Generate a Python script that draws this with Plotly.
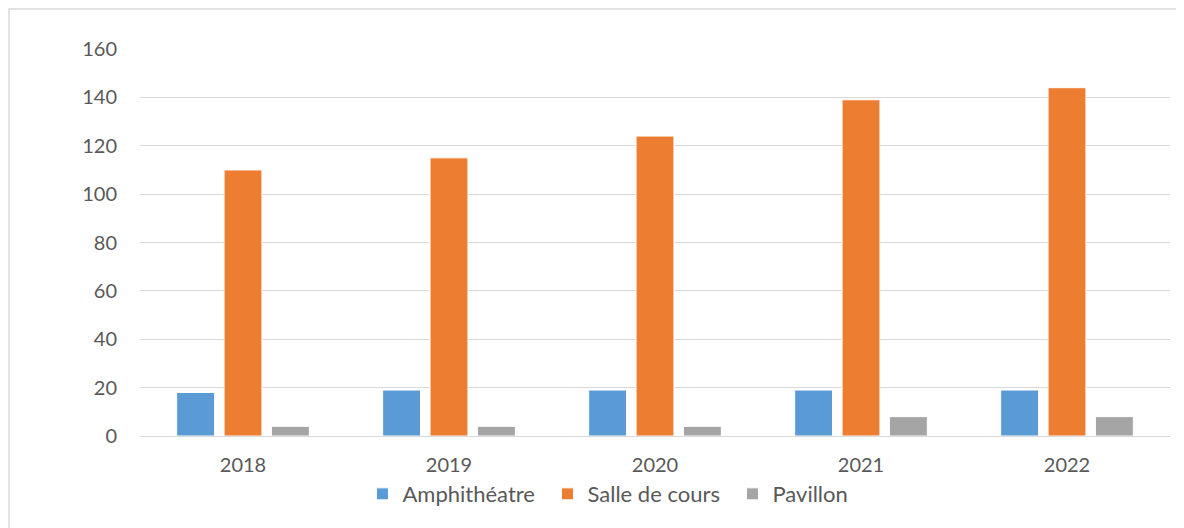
import plotly.graph_objects as go

years = ["2018", "2019", "2020", "2021", "2022"]
amphi = [18, 19, 19, 19, 19]
salle = [110, 115, 124, 139, 144]
pavillon = [4, 4, 4, 8, 8]

colors = {"Amphithéatre": "#5B9BD5", "Salle de cours": "#ED7D31", "Pavillon": "#A5A5A5"}

fig = go.Figure()
for name, vals in [("Amphithéatre", amphi), ("Salle de cours", salle), ("Pavillon", pavillon)]:
    fig.add_trace(go.Bar(x=years, y=vals, name=name, marker_color=colors[name],
                         marker_line=dict(color="white", width=1)))

font = dict(family="Lato, Open Sans, sans-serif", size=20, color="#595959")
lfont = dict(family="Lato, Open Sans, sans-serif", size=22, color="#595959")
# page has an 8px body offset; figure coords = page coords - 8
W, H = 1176, 520
L, R, T, B = 132, 14, 41, 92
pw, ph = W - L - R, H - T - B

fig.update_layout(
    width=W, height=H,
    margin=dict(l=L, r=R, t=T, b=B),
    paper_bgcolor="white", plot_bgcolor="white",
    barmode="group", bargap=0.31, bargroupgap=0.2,
    font=font,
    showlegend=True,
    legend=dict(orientation="h", x=0.216, xanchor="left", y=-0.15, yanchor="middle",
                font=lfont, itemwidth=30, entrywidth=140, traceorder="normal"),
    xaxis=dict(showgrid=False, showline=False, ticks="", tickfont=font, ticklabelstandoff=15),
    yaxis=dict(range=[0, 160], dtick=20, showgrid=True, gridcolor="#d9d9d9", gridwidth=1,
               zeroline=True, zerolinecolor="#d9d9d9", zerolinewidth=1,
               ticks="", ticklabelstandoff=22, tickfont=font, showline=False),
)
fig.add_shape(type="rect", xref="paper", yref="paper",
              x0=(1 - L) / pw, x1=(W + 20 - L) / pw,
              y0=-(H + 20 - T - ph) / ph, y1=1 + (T - 1) / ph,
              line=dict(color="#d9d9d9", width=1.5), layer="below")

fig.write_html("out.html")
